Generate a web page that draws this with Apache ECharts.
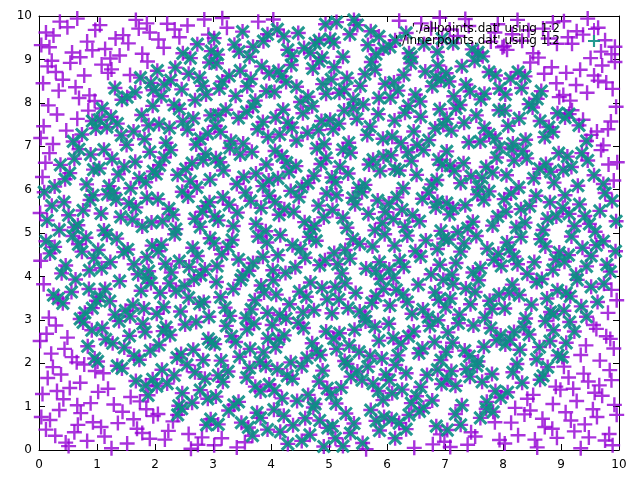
<!DOCTYPE html>
<html>
<head>
<meta charset="utf-8">
<script src="https://cdn.jsdelivr.net/npm/echarts@6/dist/echarts.min.js"></script>
<style>
  html, body { margin: 0; padding: 0; background: #fff; }
  #main { width: 640px; height: 480px; }
</style>
</head>
<body>
<div id="main"></div>
<script>
// 坐标轴刻度
const axisMin = 0;
const axisMax = 10;
const tickStep = 1;

// 图例文字
const allName = "'./allpoints.dat' using 1:2";
const innerName = "'./innerpoints.dat' using 1:2";

// allpoints.dat: x,y 交替排列
// 注意：原图的点太密（约上万个），没法从图上逐个读出。
// 下面是手工输入的替代点（每个 1x1 格子 12 个），只用来模拟“均匀铺满正方形”的分布，
// 不是原始数据，点数也比原图少很多，所以符号画得大一些。
const allXY = [
  // y 0..1
  0.12,0.47, 0.83,0.21, 0.35,0.92, 0.67,0.58, 0.04,0.76, 0.51,0.09, 0.93,0.64, 0.28,0.33, 0.72,0.85, 0.46,0.17, 0.19,0.69, 0.61,0.41,
  1.07,0.53, 1.44,0.88, 1.91,0.26, 1.63,0.71, 1.25,0.04, 1.78,0.39, 1.36,0.62, 1.52,0.15, 1.85,0.94, 1.13,0.31, 1.69,0.49, 1.97,0.78,
  2.31,0.66, 2.74,0.12, 2.05,0.83, 2.58,0.37, 2.89,0.58, 2.17,0.24, 2.46,0.95, 2.62,0.03, 2.96,0.71, 2.23,0.44, 2.81,0.29, 2.39,0.81,
  3.55,0.18, 3.09,0.59, 3.82,0.74, 3.27,0.91, 3.68,0.33, 3.41,0.06, 3.94,0.47, 3.15,0.27, 3.76,0.86, 3.49,0.63, 3.02,0.11, 3.61,0.52,
  4.22,0.79, 4.67,0.35, 4.91,0.08, 4.38,0.57, 4.05,0.93, 4.84,0.68, 4.53,0.21, 4.16,0.42, 4.73,0.98, 4.29,0.14, 4.98,0.51, 4.59,0.73,
  5.43,0.61, 5.11,0.27, 5.87,0.45, 5.29,0.84, 5.64,0.02, 5.95,0.76, 5.37,0.39, 5.72,0.92, 5.06,0.55, 5.58,0.16, 5.81,0.67, 5.24,0.09,
  6.33,0.48, 6.79,0.13, 6.08,0.71, 6.56,0.89, 6.92,0.36, 6.21,0.62, 6.47,0.05, 6.85,0.55, 6.14,0.27, 6.63,0.97, 6.38,0.81, 6.99,0.19,
  7.18,0.83, 7.52,0.31, 7.86,0.64, 7.04,0.46, 7.39,0.12, 7.71,0.95, 7.27,0.58, 7.94,0.23, 7.61,0.74, 7.45,0.41, 7.09,0.07, 7.83,0.88,
  8.26,0.34, 8.68,0.72, 8.03,0.15, 8.47,0.91, 8.85,0.49, 8.14,0.63, 8.59,0.06, 8.93,0.28, 8.37,0.82, 8.72,0.53, 8.21,0.97, 8.55,0.24,
  9.41,0.59, 9.08,0.87, 9.76,0.22, 9.23,0.43, 9.62,0.76, 9.89,0.11, 9.34,0.04, 9.55,0.94, 9.17,0.68, 9.83,0.37, 9.48,0.29, 9.96,0.81,
  // y 1..2
  0.38,1.74, 0.06,1.29, 0.71,1.55, 0.24,1.91, 0.89,1.08, 0.53,1.43, 0.15,1.66, 0.97,1.82, 0.42,1.17, 0.66,1.03, 0.31,1.36, 0.78,1.97,
  1.58,1.22, 1.11,1.77, 1.84,1.49, 1.29,1.05, 1.96,1.63, 1.43,1.88, 1.02,1.34, 1.67,1.59, 1.35,1.94, 1.74,1.12, 1.19,1.41, 1.88,1.26,
  2.12,1.85, 2.47,1.31, 2.86,1.64, 2.03,1.47, 2.64,1.09, 2.33,1.72, 2.91,1.18, 2.55,1.96, 2.21,1.53, 2.78,1.38, 2.41,1.02, 2.69,1.79,
  3.73,1.46, 3.26,1.81, 3.05,1.23, 3.58,1.67, 3.91,1.94, 3.44,1.11, 3.17,1.57, 3.82,1.35, 3.36,1.04, 3.63,1.89, 3.09,1.72, 3.97,1.51,
  4.45,1.13, 4.83,1.58, 4.11,1.86, 4.64,1.27, 4.28,1.71, 4.97,1.42, 4.53,1.93, 4.06,1.37, 4.76,1.06, 4.37,1.64, 4.89,1.83, 4.19,1.19,
  5.67,1.92, 5.21,1.44, 5.93,1.15, 5.38,1.69, 5.04,1.28, 5.76,1.53, 5.49,1.81, 5.12,1.07, 5.85,1.36, 5.57,1.61, 5.31,1.98, 5.98,1.74,
  6.04,1.61, 6.51,1.24, 6.87,1.85, 6.26,1.39, 6.69,1.73, 6.15,1.96, 6.42,1.08, 6.94,1.52, 6.33,1.77, 6.78,1.14, 6.58,1.45, 6.09,1.31,
  7.29,1.03, 7.64,1.57, 7.11,1.82, 7.87,1.36, 7.43,1.69, 7.96,1.21, 7.55,1.94, 7.18,1.48, 7.72,1.11, 7.37,1.86, 7.03,1.63, 7.81,1.75,
  8.91,1.46, 8.42,1.18, 8.17,1.79, 8.64,1.62, 8.08,1.33, 8.77,1.91, 8.33,1.55, 8.86,1.06, 8.52,1.27, 8.24,1.98, 8.69,1.71, 8.99,1.39,
  9.13,1.67, 9.58,1.32, 9.84,1.84, 9.27,1.13, 9.66,1.49, 9.05,1.92, 9.39,1.76, 9.92,1.04, 9.47,1.58, 9.71,1.25, 9.21,1.41, 9.87,1.61,
  // y 2..3
  0.57,2.14, 0.13,2.68, 0.84,2.39, 0.29,2.87, 0.65,2.02, 0.02,2.51, 0.91,2.76, 0.44,2.33, 0.76,2.94, 0.21,2.22, 0.49,2.59, 0.96,2.11,
  1.27,2.46, 1.73,2.08, 1.09,2.81, 1.56,2.63, 1.92,2.29, 1.38,2.97, 1.64,2.17, 1.15,2.55, 1.83,2.72, 1.47,2.36, 1.01,2.04, 1.79,2.91,
  2.66,2.31, 2.14,2.74, 2.92,2.56, 2.38,2.13, 2.52,2.89, 2.07,2.42, 2.83,2.07, 2.26,2.65, 2.71,2.95, 2.45,2.21, 2.97,2.48, 2.19,2.83,
  3.32,2.62, 3.87,2.25, 3.14,2.06, 3.59,2.78, 3.03,2.44, 3.71,2.91, 3.46,2.15, 3.95,2.57, 3.23,2.86, 3.64,2.33, 3.39,2.49, 3.81,2.03,
  4.08,2.37, 4.56,2.81, 4.85,2.19, 4.23,2.64, 4.71,2.46, 4.34,2.02, 4.95,2.73, 4.47,2.93, 4.13,2.55, 4.62,2.12, 4.79,2.28, 4.02,2.88,
  5.52,2.26, 5.18,2.69, 5.79,2.84, 5.35,2.41, 5.91,2.11, 5.08,2.57, 5.63,2.96, 5.27,2.05, 5.86,2.52, 5.44,2.77, 5.13,2.33, 5.71,2.17,
  6.46,2.73, 6.19,2.18, 6.82,2.49, 6.03,2.91, 6.61,2.34, 6.37,2.62, 6.93,2.07, 6.24,2.45, 6.74,2.86, 6.55,2.23, 6.11,2.58, 6.88,2.99,
  7.67,2.38, 7.05,2.71, 7.42,2.16, 7.89,2.53, 7.23,2.92, 7.57,2.04, 7.13,2.47, 7.79,2.81, 7.34,2.29, 7.96,2.64, 7.49,2.87, 7.02,2.26,
  8.12,2.54, 8.58,2.09, 8.87,2.76, 8.29,2.31, 8.73,2.97, 8.04,2.43, 8.45,2.66, 8.95,2.18, 8.36,2.84, 8.63,2.37, 8.19,2.72, 8.81,2.51,
  9.34,2.19, 9.78,2.62, 9.09,2.47, 9.56,2.88, 9.91,2.34, 9.23,2.73, 9.67,2.06, 9.15,2.95, 9.43,2.41, 9.85,2.56, 9.02,2.14, 9.61,2.79,
  // y 3..4
  0.33,3.49, 0.79,3.16, 0.08,3.82, 0.56,3.64, 0.92,3.27, 0.17,3.05, 0.63,3.93, 0.41,3.38, 0.86,3.71, 0.25,3.57, 0.71,3.02, 0.99,3.44,
  1.14,3.71, 1.62,3.34, 1.87,3.96, 1.31,3.12, 1.05,3.53, 1.76,3.67, 1.49,3.21, 1.93,3.85, 1.22,3.43, 1.57,3.08, 1.39,3.89, 1.81,3.26,
  2.44,3.19, 2.09,3.62, 2.77,3.37, 2.25,3.84, 2.93,3.07, 2.58,3.51, 2.15,3.29, 2.67,3.93, 2.36,3.66, 2.84,3.41, 2.03,3.14, 2.51,3.78,
  3.88,3.63, 3.21,3.28, 3.57,3.04, 3.06,3.87, 3.72,3.45, 3.35,3.71, 3.94,3.16, 3.48,3.92, 3.13,3.52, 3.66,3.24, 3.29,3.09, 3.83,3.79,
  4.61,3.53, 4.15,3.11, 4.88,3.74, 4.32,3.36, 4.04,3.91, 4.74,3.22, 4.49,3.65, 4.97,3.47, 4.26,3.03, 4.68,3.86, 4.09,3.58, 4.55,3.17,
  5.28,3.84, 5.74,3.39, 5.05,3.15, 5.46,3.62, 5.89,3.94, 5.17,3.47, 5.62,3.08, 5.94,3.71, 5.33,3.27, 5.81,3.55, 5.11,3.76, 5.53,3.19,
  6.71,3.06, 6.28,3.58, 6.05,3.33, 6.54,3.81, 6.89,3.46, 6.16,3.69, 6.43,3.14, 6.97,3.92, 6.35,3.41, 6.62,3.24, 6.11,3.97, 6.83,3.63,
  7.36,3.72, 7.81,3.25, 7.09,3.49, 7.58,3.91, 7.25,3.12, 7.93,3.58, 7.44,3.36, 7.14,3.83, 7.69,3.05, 7.52,3.64, 7.01,3.29, 7.77,3.44,
  8.49,3.35, 8.16,3.81, 8.82,3.18, 8.28,3.57, 8.67,3.94, 8.03,3.26, 8.94,3.68, 8.39,3.03, 8.76,3.49, 8.11,3.62, 8.58,3.87, 8.87,3.13,
  9.28,3.92, 9.63,3.41, 9.05,3.21, 9.87,3.69, 9.44,3.07, 9.16,3.54, 9.74,3.83, 9.35,3.31, 9.96,3.45, 9.52,3.76, 9.09,3.62, 9.81,3.16,
  // y 4..5
  0.46,4.25, 0.12,4.81, 0.74,4.57, 0.03,4.36, 0.58,4.93, 0.87,4.14, 0.27,4.68, 0.95,4.42, 0.39,4.07, 0.68,4.74, 0.19,4.53, 0.81,4.89,
  1.53,4.62, 1.08,4.19, 1.86,4.44, 1.34,4.87, 1.71,4.05, 1.23,4.33, 1.95,4.71, 1.46,4.56, 1.17,4.96, 1.64,4.28, 1.02,4.61, 1.89,4.12,
  2.28,4.09, 2.73,4.47, 2.11,4.73, 2.59,4.22, 2.95,4.88, 2.42,4.35, 2.06,4.58, 2.86,4.16, 2.34,4.97, 2.65,4.66, 2.18,4.29, 2.79,4.03,
  3.15,4.51, 3.62,4.13, 3.93,4.78, 3.44,4.39, 3.07,4.24, 3.78,4.92, 3.26,4.68, 3.51,4.02, 3.86,4.45, 3.33,4.84, 3.69,4.31, 3.02,4.76,
  4.37,4.72, 4.84,4.26, 4.12,4.49, 4.66,4.91, 4.03,4.14, 4.51,4.63, 4.93,4.37, 4.25,4.08, 4.78,4.82, 4.42,4.21, 4.16,4.95, 4.59,4.43,
  5.64,4.18, 5.09,4.54, 5.41,4.86, 5.87,4.33, 5.22,4.07, 5.75,4.69, 5.36,4.41, 5.96,4.97, 5.15,4.28, 5.53,4.75, 5.81,4.12, 5.28,4.61,
  6.22,4.37, 6.67,4.83, 6.04,4.16, 6.49,4.58, 6.91,4.27, 6.35,4.94, 6.76,4.05, 6.13,4.71, 6.58,4.46, 6.87,4.63, 6.29,4.22, 6.98,4.87,
  7.73,4.64, 7.19,4.31, 7.48,4.09, 7.92,4.52, 7.06,4.85, 7.61,4.19, 7.33,4.76, 7.84,4.38, 7.27,4.57, 7.54,4.93, 7.12,4.04, 7.97,4.24,
  8.07,4.78, 8.54,4.33, 8.31,4.91, 8.86,4.15, 8.19,4.46, 8.73,4.69, 8.42,4.06, 8.97,4.55, 8.25,4.28, 8.65,4.86, 8.11,4.62, 8.91,4.39,
  9.52,4.47, 9.18,4.92, 9.85,4.11, 9.37,4.66, 9.06,4.34, 9.73,4.81, 9.44,4.23, 9.94,4.58, 9.26,4.04, 9.61,4.72, 9.13,4.49, 9.79,4.27,
  // y 5..6
  0.22,5.63, 0.67,5.18, 0.09,5.94, 0.51,5.41, 0.88,5.76, 0.35,5.07, 0.76,5.52, 0.14,5.29, 0.93,5.87, 0.43,5.71, 0.61,5.13, 0.02,5.46,
  1.41,5.37, 1.86,5.81, 1.12,5.06, 1.67,5.59, 1.29,5.92, 1.94,5.24, 1.55,5.68, 1.07,5.45, 1.78,5.15, 1.33,5.77, 1.61,5.31, 1.18,5.89,
  2.57,5.84, 2.13,5.27, 2.82,5.49, 2.36,5.09, 2.94,5.71, 2.24,5.56, 2.69,5.33, 2.05,5.78, 2.47,5.95, 2.78,5.14, 2.31,5.42, 2.88,5.62,
  3.74,5.21, 3.28,5.65, 3.03,5.38, 3.56,5.93, 3.91,5.04, 3.42,5.47, 3.17,5.82, 3.83,5.58, 3.35,5.16, 3.65,5.74, 3.09,5.29, 3.97,5.86,
  4.23,5.55, 4.69,5.09, 4.48,5.83, 4.91,5.36, 4.07,5.71, 4.58,5.25, 4.34,5.97, 4.82,5.63, 4.14,5.42, 4.75,5.17, 4.39,5.49, 4.96,5.91,
  5.45,5.66, 5.92,5.23, 5.13,5.87, 5.68,5.44, 5.31,5.12, 5.84,5.75, 5.06,5.53, 5.57,5.94, 5.24,5.35, 5.79,5.06, 5.41,5.81, 5.97,5.48,
  6.31,5.14, 6.84,5.59, 6.17,5.82, 6.56,5.27, 6.03,5.68, 6.72,5.93, 6.44,5.41, 6.93,5.05, 6.26,5.54, 6.61,5.79, 6.11,5.32, 6.87,5.72,
  7.56,5.89, 7.08,5.43, 7.82,5.17, 7.35,5.64, 7.91,5.38, 7.22,5.02, 7.67,5.76, 7.14,5.57, 7.48,5.26, 7.76,5.96, 7.03,5.69, 7.39,5.11,
  8.38,5.24, 8.81,5.71, 8.05,5.49, 8.57,5.86, 8.23,5.13, 8.92,5.38, 8.46,5.62, 8.14,5.91, 8.69,5.07, 8.31,5.55, 8.77,5.33, 8.02,5.78,
  9.67,5.51, 9.23,5.16, 9.88,5.74, 9.41,5.39, 9.07,5.87, 9.59,5.03, 9.32,5.66, 9.95,5.27, 9.14,5.44, 9.76,5.92, 9.49,5.21, 9.03,5.58,
  // y 6..7
  0.53,6.38, 0.18,6.84, 0.82,6.12, 0.37,6.57, 0.06,6.29, 0.69,6.93, 0.94,6.46, 0.27,6.07, 0.61,6.71, 0.45,6.24, 0.89,6.81, 0.11,6.62,
  1.26,6.71, 1.73,6.26, 1.04,6.49, 1.58,6.03, 1.91,6.87, 1.37,6.35, 1.66,6.64, 1.12,6.92, 1.84,6.17, 1.47,6.53, 1.21,6.08, 1.97,6.42,
  2.61,6.19, 2.08,6.56, 2.87,6.82, 2.39,6.34, 2.72,6.05, 2.16,6.74, 2.53,6.47, 2.95,6.23, 2.27,6.91, 2.64,6.61, 2.02,6.36, 2.83,6.68,
  3.18,6.44, 3.67,6.87, 3.41,6.13, 3.92,6.58, 3.05,6.72, 3.53,6.29, 3.29,6.96, 3.86,6.08, 3.12,6.63, 3.74,6.37, 3.47,6.81, 3.96,6.21,
  4.74,6.32, 4.19,6.77, 4.53,6.06, 4.86,6.59, 4.31,6.41, 4.07,6.89, 4.64,6.15, 4.95,6.73, 4.43,6.54, 4.12,6.26, 4.79,6.95, 4.27,6.62,
  5.19,6.53, 5.62,6.11, 5.37,6.85, 5.88,6.43, 5.05,6.28, 5.76,6.69, 5.24,6.92, 5.51,6.04, 5.94,6.76, 5.33,6.37, 5.69,6.58, 5.11,6.17,
  6.42,6.66, 6.86,6.22, 6.14,6.47, 6.63,6.91, 6.28,6.03, 6.95,6.57, 6.07,6.79, 6.51,6.34, 6.77,6.12, 6.36,6.86, 6.21,6.44, 6.89,6.69,
  7.27,6.15, 7.71,6.52, 7.03,6.88, 7.45,6.31, 7.89,6.74, 7.16,6.43, 7.58,6.06, 7.94,6.97, 7.32,6.61, 7.64,6.27, 7.09,6.55, 7.82,6.39,
  8.63,6.48, 8.15,6.93, 8.88,6.16, 8.41,6.72, 8.06,6.33, 8.74,6.59, 8.27,6.05, 8.96,6.84, 8.53,6.26, 8.19,6.67, 8.82,6.41, 8.34,6.89,
  9.11,6.76, 9.57,6.33, 9.82,6.58, 9.29,6.09, 9.69,6.91, 9.04,6.45, 9.46,6.67, 9.91,6.21, 9.36,6.84, 9.73,6.13, 9.18,6.52, 9.97,6.63,
  // y 7..8
  0.74,7.27, 0.31,7.73, 0.08,7.46, 0.59,7.11, 0.92,7.58, 0.16,7.94, 0.47,7.36, 0.85,7.82, 0.24,7.05, 0.66,7.63, 0.03,7.19, 0.98,7.41,
  1.35,7.52, 1.82,7.16, 1.09,7.87, 1.63,7.34, 1.24,7.68, 1.96,7.93, 1.51,7.03, 1.17,7.44, 1.77,7.72, 1.42,7.25, 1.04,7.61, 1.89,7.48,
  2.19,7.08, 2.66,7.64, 2.91,7.29, 2.42,7.86, 2.07,7.51, 2.78,7.17, 2.33,7.95, 2.56,7.38, 2.96,7.71, 2.25,7.42, 2.71,7.04, 2.48,7.57,
  3.58,7.79, 3.13,7.33, 3.86,7.56, 3.31,7.12, 3.69,7.91, 3.04,7.47, 3.44,7.65, 3.95,7.21, 3.22,7.84, 3.77,7.39, 3.52,7.06, 3.09,7.72,
  4.44,7.13, 4.87,7.58, 4.21,7.84, 4.63,7.31, 4.08,7.66, 4.92,7.05, 4.36,7.43, 4.71,7.92, 4.15,7.27, 4.55,7.76, 4.82,7.37, 4.29,7.54,
  5.71,7.45, 5.26,7.82, 5.93,7.17, 5.48,7.63, 5.07,7.39, 5.59,7.96, 5.34,7.08, 5.85,7.74, 5.17,7.52, 5.66,7.26, 5.42,7.88, 5.02,7.61,
  6.37,7.93, 6.83,7.41, 6.09,7.22, 6.58,7.68, 6.24,7.07, 6.91,7.85, 6.46,7.34, 6.13,7.59, 6.72,7.14, 6.31,7.77, 6.97,7.49, 6.52,7.03,
  7.11,7.36, 7.54,7.71, 7.87,7.18, 7.26,7.95, 7.68,7.42, 7.03,7.63, 7.41,7.09, 7.93,7.83, 7.33,7.54, 7.76,7.27, 7.19,7.87, 7.61,7.11,
  8.28,7.64, 8.72,7.21, 8.09,7.47, 8.51,7.89, 8.86,7.33, 8.17,7.06, 8.64,7.58, 8.94,7.76, 8.39,7.15, 8.03,7.82, 8.79,7.44, 8.45,7.97,
  9.44,7.12, 9.86,7.57, 9.19,7.83, 9.62,7.34, 9.07,7.66, 9.73,7.02, 9.31,7.48, 9.95,7.91, 9.52,7.26, 9.14,7.74, 9.81,7.39, 9.38,7.61,
  // y 8..9
  0.41,8.53, 0.87,8.17, 0.15,8.84, 0.63,8.36, 0.29,8.71, 0.96,8.04, 0.54,8.92, 0.07,8.45, 0.78,8.63, 0.34,8.28, 0.69,8.11, 0.22,8.97,
  1.66,8.24, 1.19,8.69, 1.93,8.46, 1.43,8.07, 1.08,8.88, 1.75,8.58, 1.31,8.34, 1.87,8.95, 1.52,8.13, 1.25,8.77, 1.97,8.29, 1.57,8.64,
  2.35,8.81, 2.82,8.39, 2.11,8.15, 2.58,8.67, 2.94,8.93, 2.27,8.52, 2.69,8.06, 2.04,8.74, 2.46,8.31, 2.77,8.58, 2.16,8.42, 2.88,8.19,
  3.92,8.27, 3.47,8.74, 3.16,8.49, 3.73,8.05, 3.06,8.91, 3.59,8.38, 3.28,8.62, 3.84,8.84, 3.39,8.16, 3.65,8.55, 3.11,8.33, 3.97,8.68,
  4.18,8.61, 4.64,8.14, 4.35,8.87, 4.89,8.43, 4.06,8.25, 4.72,8.79, 4.51,8.02, 4.26,8.48, 4.83,8.96, 4.44,8.37, 4.95,8.21, 4.13,8.73,
  5.54,8.39, 5.09,8.82, 5.86,8.11, 5.31,8.57, 5.73,8.94, 5.18,8.23, 5.62,8.66, 5.97,8.44, 5.42,8.08, 5.04,8.54, 5.79,8.76, 5.26,8.31,
  6.66,8.72, 6.19,8.28, 6.93,8.53, 6.41,8.91, 6.06,8.12, 6.78,8.38, 6.29,8.64, 6.57,8.03, 6.88,8.86, 6.12,8.47, 6.49,8.19, 6.84,8.59,
  7.43,8.26, 7.87,8.63, 7.07,8.49, 7.62,8.08, 7.29,8.84, 7.94,8.33, 7.51,8.97, 7.15,8.15, 7.76,8.71, 7.36,8.42, 7.02,8.68, 7.68,8.21,
  8.13,8.56, 8.59,8.09, 8.84,8.82, 8.32,8.34, 8.71,8.67, 8.04,8.19, 8.47,8.93, 8.92,8.45, 8.26,8.71, 8.66,8.27, 8.38,8.61, 8.97,8.13,
  9.26,8.41, 9.71,8.86, 9.04,8.18, 9.57,8.63, 9.89,8.32, 9.33,8.76, 9.16,8.05, 9.64,8.51, 9.93,8.94, 9.45,8.23, 9.09,8.69, 9.78,8.47,
  // y 9..10
  0.57,9.16, 0.12,9.62, 0.83,9.41, 0.36,9.87, 0.71,9.05, 0.04,9.33, 0.49,9.74, 0.92,9.21, 0.25,9.55, 0.66,9.94, 0.18,9.28, 0.97,9.68,
  1.32,9.48, 1.78,9.13, 1.05,9.79, 1.54,9.37, 1.91,9.62, 1.23,9.02, 1.67,9.91, 1.14,9.24, 1.45,9.56, 1.86,9.83, 1.39,9.09, 1.72,9.71,
  2.73,9.35, 2.21,9.82, 2.48,9.14, 2.92,9.57, 2.06,9.46, 2.61,9.03, 2.34,9.69, 2.85,9.92, 2.15,9.27, 2.56,9.78, 2.97,9.19, 2.42,9.51,
  3.24,9.73, 3.69,9.29, 3.08,9.11, 3.51,9.64, 3.87,9.42, 3.16,9.95, 3.63,9.06, 3.94,9.58, 3.37,9.34, 3.78,9.87, 3.45,9.18, 3.02,9.49,
  4.57,9.26, 4.11,9.69, 4.83,9.44, 4.36,9.08, 4.94,9.81, 4.22,9.53, 4.68,9.15, 4.04,9.92, 4.47,9.61, 4.76,9.37, 4.29,9.22, 4.88,9.04,
  5.36,9.58, 5.81,9.12, 5.13,9.86, 5.67,9.33, 5.02,9.47, 5.49,9.79, 5.94,9.25, 5.24,9.06, 5.72,9.65, 5.43,9.91, 5.08,9.39, 5.86,9.53,
  6.14,9.44, 6.59,9.83, 6.87,9.17, 6.33,9.61, 6.05,9.29, 6.76,9.72, 6.42,9.06, 6.95,9.48, 6.21,9.89, 6.64,9.35, 6.38,9.14, 6.91,9.96,
  7.65,9.07, 7.22,9.54, 7.91,9.81, 7.47,9.23, 7.08,9.69, 7.79,9.41, 7.35,9.93, 7.57,9.16, 7.14,9.37, 7.86,9.62, 7.41,9.77, 7.99,9.28,
  8.44,9.67, 8.07,9.22, 8.78,9.48, 8.25,9.91, 8.61,9.04, 8.93,9.36, 8.16,9.58, 8.52,9.14, 8.86,9.85, 8.33,9.43, 8.69,9.71, 8.02,9.31,
  9.19,9.36, 9.64,9.73, 9.87,9.12, 9.38,9.57, 9.05,9.88, 9.76,9.44, 9.51,9.03, 9.27,9.65, 9.93,9.29, 9.46,9.94, 9.12,9.51, 9.69,9.18
];

// innerpoints.dat 就是落在圆 (5,5) 半径 5 里面的那些点
const circleX = 5;
const circleY = 5;
const circleR = 5;

let allPoints = [];
for (let i = 0; i < allXY.length; i += 2) {
  allPoints.push([allXY[i], allXY[i + 1]]);
}
let innerPoints = allPoints.filter(p => {
  let dx = p[0] - circleX, dy = p[1] - circleY;
  return dx * dx + dy * dy <= circleR * circleR;
});

// gnuplot 的 + 号（x 号用旋转 45 度）
const plusPath = 'path://M4.2,0H5.8V4.2H10V5.8H5.8V10H4.2V5.8H0V4.2H4.2Z';
const crossPath = 'path://M4.1,0H5.9V4.1H10V5.9H5.9V10H4.1V5.9H0V4.1H4.1Z';

const chart = echarts.init(document.getElementById('main'));

const tickLabel = {
  color: '#000',
  fontFamily: 'DejaVu Sans',
  fontSize: 12
};

const option = {
  backgroundColor: '#fff',
  animation: false,
  grid: {
    left: 39,
    right: 21,
    top: 16,
    bottom: 30
  },
  legend: {
    orient: 'vertical',
    right: 40,
    top: 23,
    padding: 0,
    align: 'right',
    itemGap: 0,
    itemWidth: 12,
    itemHeight: 12,
    textStyle: {
      color: '#000',
      fontFamily: 'DejaVu Sans',
      fontSize: 12,
      padding: [0, 23, 0, 0]
    },
    data: [allName, innerName]
  },
  xAxis: [{
    type: 'value',
    min: axisMin,
    max: axisMax,
    interval: tickStep,
    splitLine: { show: false },
    axisLine: { onZero: false, lineStyle: { color: '#000', width: 1 } },
    axisTick: { inside: true, length: 6, lineStyle: { color: '#000' } },
    axisLabel: Object.assign({ margin: 9 }, tickLabel)
  }, {
    type: 'value',
    position: 'top',
    min: axisMin,
    max: axisMax,
    interval: tickStep,
    splitLine: { show: false },
    axisLine: { onZero: false, lineStyle: { color: '#000', width: 1 } },
    axisTick: { inside: true, length: 6, lineStyle: { color: '#000' } },
    axisLabel: { show: false }
  }],
  yAxis: [{
    type: 'value',
    min: axisMin,
    max: axisMax,
    interval: tickStep,
    splitLine: { show: false },
    axisLine: { onZero: false, lineStyle: { color: '#000', width: 1 } },
    axisTick: { inside: true, length: 6, lineStyle: { color: '#000' } },
    axisLabel: Object.assign({ margin: 7 }, tickLabel)
  }, {
    type: 'value',
    position: 'right',
    min: axisMin,
    max: axisMax,
    interval: tickStep,
    splitLine: { show: false },
    axisLine: { onZero: false, lineStyle: { color: '#000', width: 1 } },
    axisTick: { inside: true, length: 6, lineStyle: { color: '#000' } },
    axisLabel: { show: false }
  }],
  series: [{
    name: allName,
    type: 'scatter',
    clip: false,
    symbol: plusPath,
    symbolSize: 15,
    itemStyle: { color: '#9400d3', opacity: 0.8 },
    data: allPoints
  }, {
    name: innerName,
    type: 'scatter',
    clip: false,
    symbol: crossPath,
    symbolRotate: 45,
    symbolSize: 17,
    itemStyle: { color: '#0b8f84', opacity: 0.9 },
    data: innerPoints
  }]
};

chart.setOption(option);
</script>
</body>
</html>
